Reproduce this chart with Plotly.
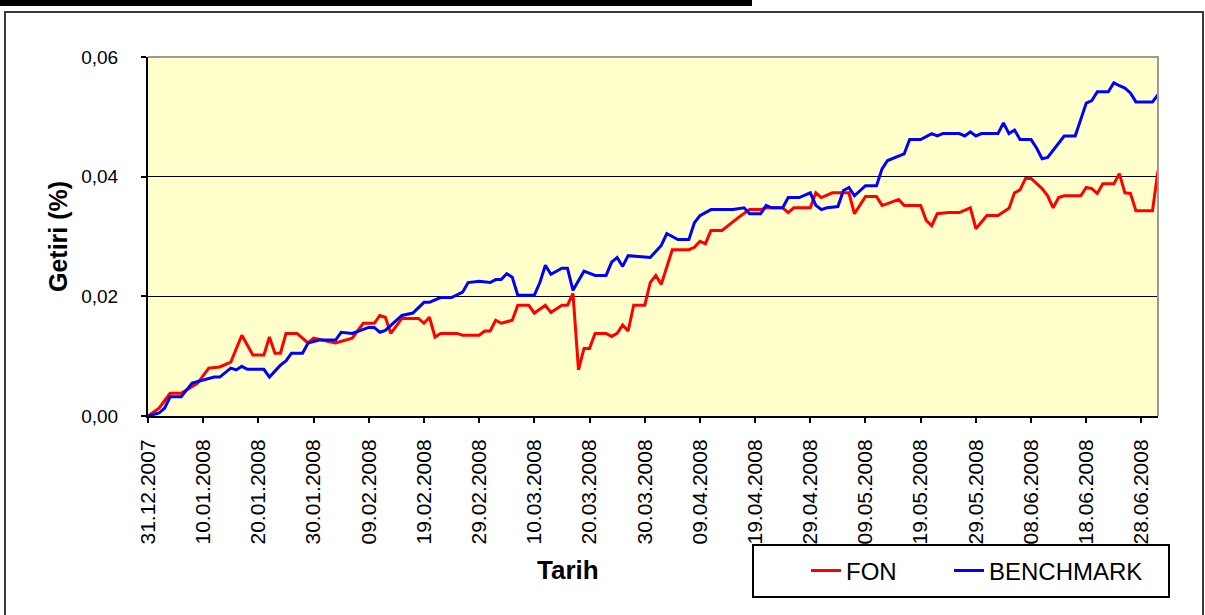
import pandas as pd
import plotly.graph_objects as go

# ---------------- data ----------------
START_DATE = "2007-12-31"
END_DATE = "2008-07-01"

# day offsets from START_DATE and cumulative returns
FON_DAYS = [0, 2, 4, 6, 9, 11, 13, 15, 17, 19, 21, 22, 23, 24, 25, 27, 29, 30, 34, 37,
            39, 41, 42, 43, 44, 46, 49, 50, 51, 52, 53, 56, 57, 60, 61, 62, 63, 64, 66, 67,
            69, 70, 72, 73, 75, 76, 77, 78, 79, 80, 81, 83, 84, 85, 86, 87, 88, 90, 91, 92,
            93, 94, 95, 98, 99, 100, 101, 102, 104, 107, 108, 109, 111, 112, 115, 116, 117, 120, 121, 122,
            124, 127, 128, 130, 132, 133, 134, 136, 137, 140, 141, 142, 143, 145, 147, 149, 150, 152, 154, 156,
            157, 158, 159, 160, 162, 163, 164, 165, 166, 169, 170, 171, 172, 173, 175, 176, 177, 178, 179, 182,
            183]
FON_VALUES = [0.000, 0.0013, 0.0038, 0.0038, 0.0055, 0.008, 0.0082, 0.009, 0.0135, 0.0102,
              0.0102, 0.0132, 0.0105, 0.0105, 0.0138, 0.0138, 0.0122, 0.013, 0.0122, 0.013,
              0.0155, 0.0155, 0.0168, 0.0165, 0.0138, 0.0163, 0.0163, 0.0155, 0.0165, 0.0132,
              0.0138, 0.0138, 0.0135, 0.0135, 0.0142, 0.0142, 0.016, 0.0155, 0.016, 0.0185,
              0.0185, 0.0172, 0.0185, 0.0173, 0.0185, 0.0185, 0.0205, 0.0077, 0.0113, 0.0113,
              0.0138, 0.0138, 0.0133, 0.0138, 0.0152, 0.0142, 0.0185, 0.0185, 0.0223, 0.0235,
              0.022, 0.0248, 0.0278, 0.0278, 0.0282, 0.0292, 0.0288, 0.031, 0.031, 0.0332,
              0.0338, 0.0345, 0.0345, 0.0348, 0.0348, 0.034, 0.0348, 0.0348, 0.0373, 0.0365,
              0.0373, 0.0373, 0.0338, 0.0367, 0.0367, 0.0352, 0.0355, 0.0362, 0.0352, 0.0352,
              0.0327, 0.0318, 0.0338, 0.034, 0.034, 0.0348, 0.0313, 0.0335, 0.0335, 0.0347,
              0.0373, 0.0378, 0.0397, 0.0397, 0.038, 0.0368, 0.0348, 0.0365, 0.0368, 0.0368,
              0.0382, 0.038, 0.0372, 0.0388, 0.0388, 0.0405, 0.0373, 0.0372, 0.0343, 0.0343,
              0.041]

BENCHMARK_DAYS = [0, 2, 3, 4, 6, 8, 12, 13, 15, 16, 17, 18, 21, 22, 24, 25, 26, 28, 29, 31,
                  34, 35, 37, 40, 41, 42, 43, 46, 48, 50, 51, 53, 55, 57, 58, 60, 62, 63, 64, 65,
                  66, 67, 70, 71, 72, 73, 75, 76, 77, 79, 81, 83, 84, 85, 86, 87, 91, 93, 94, 96,
                  98, 99, 100, 102, 106, 108, 109, 111, 112, 113, 115, 116, 118, 120, 121, 122, 123, 125, 126, 127,
                  128, 130, 132, 133, 134, 136, 137, 138, 140, 142, 143, 144, 147, 148, 149, 150, 151, 154, 155, 156,
                  157, 158, 160, 161, 162, 163, 165, 166, 168, 169, 170, 171, 172, 174, 175, 176, 177, 178, 179, 182,
                  183]
BENCHMARK_VALUES = [0.000, 0.0005, 0.0013, 0.0032, 0.0032, 0.0055, 0.0065, 0.0065, 0.008, 0.0077,
                    0.0083, 0.0078, 0.0078, 0.0065, 0.0085, 0.0092, 0.0105, 0.0105, 0.0122, 0.0127,
                    0.0127, 0.014, 0.0138, 0.0148, 0.0148, 0.014, 0.0143, 0.0168, 0.0172, 0.019,
                    0.019, 0.0198, 0.0198, 0.0207, 0.0223, 0.0225, 0.0223, 0.0228, 0.0228, 0.0238,
                    0.0232, 0.0202, 0.0202, 0.0223, 0.0252, 0.0237, 0.0247, 0.0247, 0.021, 0.0242,
                    0.0235, 0.0235, 0.0257, 0.0265, 0.025, 0.0268, 0.0265, 0.0285, 0.0305, 0.0295,
                    0.0295, 0.0323, 0.0335, 0.0345, 0.0345, 0.0348, 0.0338, 0.0338, 0.0352, 0.0348,
                    0.0348, 0.0365, 0.0365, 0.0373, 0.0352, 0.0345, 0.0348, 0.035, 0.0377, 0.0382,
                    0.0368, 0.0385, 0.0385, 0.0413, 0.0427, 0.0435, 0.0438, 0.0462, 0.0462, 0.0472,
                    0.0468, 0.0472, 0.0472, 0.0468, 0.0475, 0.0468, 0.0472, 0.0472, 0.049, 0.0472,
                    0.0478, 0.0462, 0.0462, 0.0448, 0.043, 0.0432, 0.0457, 0.0468, 0.0468, 0.0497,
                    0.0523, 0.0527, 0.0542, 0.0542, 0.0557, 0.0552, 0.0548, 0.054, 0.0525, 0.0525,
                    0.0537]

X_TICK_LABELS = ["31.12.2007", "10.01.2008", "20.01.2008", "30.01.2008", "09.02.2008",
                 "19.02.2008", "29.02.2008", "10.03.2008", "20.03.2008", "30.03.2008",
                 "09.04.2008", "19.04.2008", "29.04.2008", "09.05.2008", "19.05.2008",
                 "29.05.2008", "08.06.2008", "18.06.2008", "28.06.2008"]
Y_TICK_VALUES = [0.0, 0.02, 0.04, 0.06]
Y_TICK_LABELS = ["0,00", "0,02", "0,04", "0,06"]

SERIES_NAMES = ["FON", "BENCHMARK"]
X_TITLE = "Tarih"
Y_TITLE = "Getiri (%)"

# ---------------- derived ----------------
start = pd.Timestamp(START_DATE)
fon_dates = start + pd.to_timedelta(FON_DAYS, unit="D")
bm_dates = start + pd.to_timedelta(BENCHMARK_DAYS, unit="D")
x_tick_vals = pd.to_datetime(X_TICK_LABELS, format="%d.%m.%Y")

FONT = "Liberation Sans, Arial, sans-serif"
W, H = 1205, 615
ML, MR, MT, MB = 148, 47, 57, 199
PW, PH = W - ML - MR, H - MT - MB


def px(xp):
    return (xp - ML) / PW


def py(yp):
    return (H - MB - yp) / PH


fig = go.Figure()
fig.add_trace(go.Scatter(x=fon_dates, y=FON_VALUES, name=SERIES_NAMES[0], mode="lines",
                         line=dict(color="#FF0000", width=3), legend="legend"))
fig.add_trace(go.Scatter(x=bm_dates, y=BENCHMARK_VALUES, name=SERIES_NAMES[1], mode="lines",
                         line=dict(color="#0000FF", width=3), legend="legend2"))

legend_common = dict(orientation="h", xanchor="left", y=py(571), yanchor="middle",
                     bgcolor="rgba(0,0,0,0)", borderwidth=0,
                     font=dict(family=FONT, size=24, color="black"))

fig.update_layout(
    width=W, height=H,
    margin=dict(l=ML, r=MR, t=MT, b=MB, pad=0),
    paper_bgcolor="white",
    plot_bgcolor="#FFFFCC",
    separators=",.",
    font=dict(family=FONT, color="black"),
    showlegend=True,
    legend=dict(x=px(806), **legend_common),
    legend2=dict(x=px(949), **legend_common),
    xaxis=dict(type="date", range=[START_DATE, END_DATE],
               tickmode="array", tickvals=x_tick_vals, ticktext=X_TICK_LABELS,
               tickangle=-90, tickfont=dict(family=FONT, size=21, color="black"),
               ticks="outside", ticklen=5, tickwidth=2, tickcolor="black",
               showline=True, linecolor="black", linewidth=2,
               showgrid=False, zeroline=False, ticklabelstandoff=8),
    yaxis=dict(range=[0, 0.06], tickmode="array", tickvals=Y_TICK_VALUES, ticktext=Y_TICK_LABELS,
               tickfont=dict(family=FONT, size=19, color="black"),
               ticks="outside", ticklen=5, tickwidth=2, tickcolor="black",
               showline=True, linecolor="black", linewidth=2,
               showgrid=True, gridcolor="black", gridwidth=1, zeroline=False,
               ticklabelstandoff=19),
)

shapes = [
    # outer frame
    dict(type="rect", xref="paper", yref="paper", x0=px(5), x1=px(1203), y0=py(640), y1=py(12),
         line=dict(color="#3a3a3a", width=2), fillcolor="rgba(0,0,0,0)", layer="below"),
    # thick bar at very top (cut-off title underline)
    dict(type="rect", xref="paper", yref="paper", x0=px(0), x1=px(752), y0=py(6), y1=py(-2),
         line=dict(width=0), fillcolor="black", layer="above"),
    # grey plot-area border top and right
    dict(type="path", xref="paper", yref="paper",
         path="M 0,1 L 1,1 L 1,0", line=dict(color="#9a9a9a", width=2), layer="above"),
    # legend box
    dict(type="rect", xref="paper", yref="paper", x0=px(753), x1=px(1169), y0=py(597), y1=py(545),
         line=dict(color="black", width=2), fillcolor="white", layer="above"),
]
fig.update_layout(shapes=shapes)

fig.add_annotation(text=f"<b>{X_TITLE}</b>", xref="paper", yref="paper", x=px(568), y=py(570),
                   showarrow=False, xanchor="center", yanchor="middle",
                   font=dict(family=FONT, size=26, color="black"))
fig.add_annotation(text=f"<b>{Y_TITLE}</b>", xref="paper", yref="paper", x=px(58), y=py(237),
                   showarrow=False, xanchor="center", yanchor="middle", textangle=-90,
                   font=dict(family=FONT, size=25, color="black"))

fig.write_html("out.html", config={"displayModeBar": False},
               post_script="document.body.style.margin='0';")
